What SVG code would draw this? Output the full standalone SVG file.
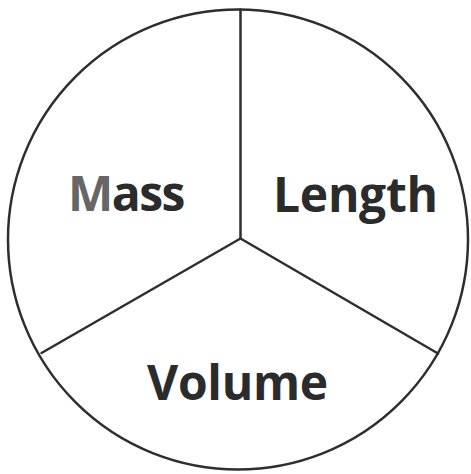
<svg xmlns="http://www.w3.org/2000/svg" width="471" height="474" viewBox="0 0 471 474">
<style>
.ln{fill:none;stroke:#2e2e2e;stroke-width:2.5;stroke-linecap:round}
.lbl{font-family:"Open Sans","Liberation Sans",sans-serif;font-weight:700;font-size:48px;fill:#2b2b2b}
</style>
<rect width="471" height="474" fill="#fff"/>
<g id="circle"><circle class="ln" cx="238" cy="239.5" r="230"/></g>
<g id="connectors">
<line class="ln" x1="240.5" y1="9.5" x2="240.5" y2="238.5"/>
<line class="ln" x1="240.5" y1="238.5" x2="41.5" y2="353"/>
<line class="ln" x1="240.5" y1="238.5" x2="438" y2="353.5"/>
</g>
<g id="mass"><text class="lbl" x="68" y="211" letter-spacing="-1.5"><tspan fill="#666">M</tspan>ass</text></g>
<g id="length"><text class="lbl" x="273" y="212" letter-spacing="-0.3">Length</text></g>
<g id="volume"><text class="lbl" x="147" y="400" letter-spacing="-0.3">Volume</text></g>
</svg>
